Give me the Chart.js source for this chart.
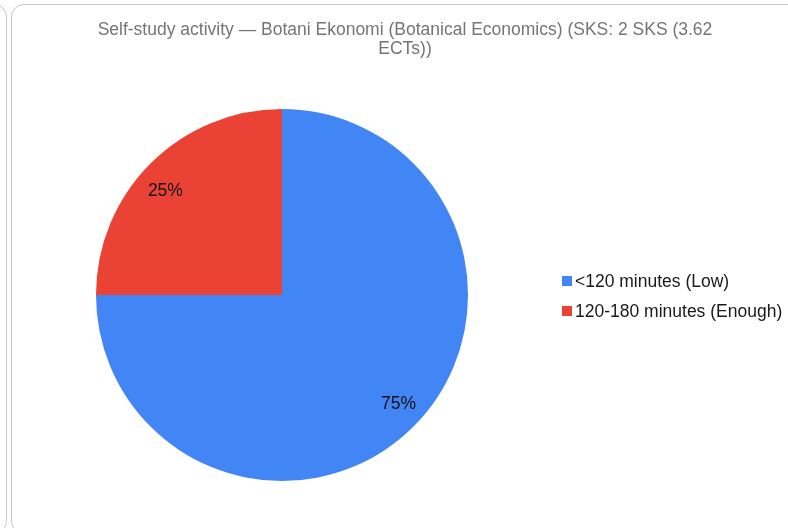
<!DOCTYPE html>
<html>
<head>
<meta charset="utf-8">
<script src="https://cdn.jsdelivr.net/npm/chart.js@4"></script>
<style>
  html, body { margin: 0; padding: 0; background: #fff; overflow: hidden; }
  body { width: 788px; height: 528px; position: relative; font-family: Arial, "Liberation Sans", sans-serif; }
  .card { position: absolute; border: 1.5px solid #c6c6c6; border-radius: 13px; box-sizing: border-box; }
  #prev-card { left: -30px; top: 4px; width: 37px; height: 530px; }
  #main-card { left: 11px; top: 4px; width: 790px; height: 530px; }
  #chart-wrap { position: absolute; left: 0; top: 0; width: 788px; height: 528px; }
  #title { position: absolute; left: 55px; top: 20px; width: 700px; text-align: center; color: #757575; font-size: 17.5px; line-height: 19px; white-space: nowrap; }
  #legend { position: absolute; left: 562px; top: 266px; color: #1a1a1a; font-size: 17.5px; }
  #legend .item { display: flex; align-items: center; height: 30px; }
  #legend .box { width: 10px; height: 10px; margin-right: 3px; }
</style>
</head>
<body>
<div class="card" id="prev-card"></div>
<div class="card" id="main-card"></div>
<div id="chart-wrap"><canvas id="pie"></canvas></div>
<div id="title"></div>
<div id="legend"></div>
<script>
// Self-study activity pie
const titleLines = ['Self-study activity \u2014 Botani Ekonomi (Botanical Economics) (SKS: 2 SKS (3.62', 'ECTs))'];
const categories = ['<120 minutes (Low)', '120-180 minutes (Enough)'];
const shares = [75, 25];
const sliceColors = ['#4285F4', '#EA4335'];

document.getElementById('title').innerHTML = titleLines
    .map((line) => line.replace(/&/g, '&amp;').replace(/</g, '&lt;'))
    .join('<br>');

const legendEl = document.getElementById('legend');
categories.forEach((name, i) => {
    const item = document.createElement('div');
    item.className = 'item';
    const box = document.createElement('span');
    box.className = 'box';
    box.style.background = sliceColors[i];
    const txt = document.createElement('span');
    txt.textContent = name;
    item.appendChild(box);
    item.appendChild(txt);
    legendEl.appendChild(item);
});

// percent labels inside each slice, near the rim, slightly turned like the original
const sliceLabels = {
    id: 'sliceLabels',
    afterDatasetsDraw(chart) {
        const ctx = chart.ctx;
        const meta = chart.getDatasetMeta(0);
        const total = shares.reduce((a, b) => a + b, 0);
        ctx.save();
        ctx.font = '17.5px Arial, "Liberation Sans", sans-serif';
        ctx.fillStyle = '#111';
        ctx.textAlign = 'center';
        ctx.textBaseline = 'middle';
        meta.data.forEach((arc, i) => {
            const p = arc.getProps(['x', 'y', 'startAngle', 'endAngle', 'outerRadius'], true);
            const mid = (p.startAngle + p.endAngle) / 2 - 0.044;
            const r = p.outerRadius * 0.85;
            const pct = Math.round(shares[i] / total * 100) + '%';
            ctx.fillText(pct, p.x + Math.cos(mid) * r, p.y + Math.sin(mid) * r + 2.5);
        });
        ctx.restore();
    }
};

new Chart(document.getElementById('pie'), {
    type: 'pie',
    data: {
        labels: categories,
        datasets: [{
            data: shares,
            backgroundColor: sliceColors,
            borderWidth: 0
        }]
    },
    options: {
        responsive: true,
        maintainAspectRatio: false,
        animation: false,
        layout: { padding: { left: 96, right: 320, top: 109, bottom: 47 } },
        plugins: {
            legend: { display: false },
            title: { display: false },
            tooltip: { enabled: false }
        }
    },
    plugins: [sliceLabels]
});
</script>
</body>
</html>
